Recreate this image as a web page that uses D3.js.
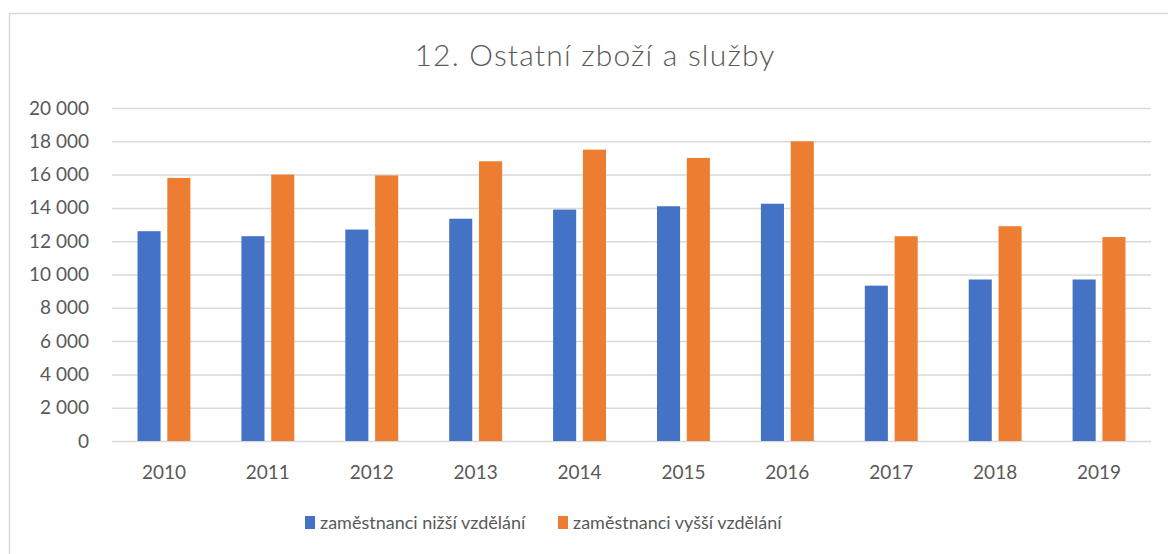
<!DOCTYPE html>
<html lang="cs">
<head>
    <meta charset="UTF-8">
    <title>12. Ostatní zboží a služby</title>
    <script src="https://d3js.org/d3.v7.min.js"></script>
    <style>
        body { margin: 0; background: #fff; }
        text { font-family: Lato, "Open Sans", sans-serif; fill: #595959; }
    </style>
</head>
<body>
<div id="chart"></div>
<script>
    const years = ["2010", "2011", "2012", "2013", "2014", "2015", "2016", "2017", "2018", "2019"];
    const seriesNames = ["zaměstnanci nižší vzdělání", "zaměstnanci vyšší vzdělání"];
    const lower = [12600, 12300, 12700, 13350, 13900, 14100, 14250, 9330, 9700, 9700];
    const higher = [15800, 16000, 15950, 16800, 17500, 17000, 18000, 12300, 12900, 12250];
    const yTicks = [0, 2000, 4000, 6000, 8000, 10000, 12000, 14000, 16000, 18000, 20000];
    const colors = ["#4472C4", "#ED7D31"];

    const width = 1168, height = 554;
    const plot = {left: 112, right: 1151, top: 108, bottom: 441};

    const svg = d3.select("#chart").append("svg")
        .attr("width", width)
        .attr("height", height);

    // chart frame (only top and left edges are visible in the window)
    svg.append("rect")
        .attr("x", 9.5).attr("y", 13.5)
        .attr("width", 1200).attr("height", 600)
        .attr("fill", "none")
        .attr("stroke", "#d9d9d9")
        .attr("stroke-width", 1.5);

    svg.append("text")
        .attr("x", 595).attr("y", 66)
        .attr("text-anchor", "middle")
        .attr("font-size", "30px")
        .attr("font-weight", 300)
        .attr("letter-spacing", "1.2px")
        .text("12. Ostatní zboží a služby");

    const x = d3.scaleBand().domain(years).range([plot.left, plot.right]).padding(0);
    const y = d3.scaleLinear().domain([0, 20000]).range([plot.bottom, plot.top]);

    const fmt = v => d3.format(",")(v).replace(/,/g, " ");

    // gridlines + y labels
    const yAxis = d3.axisLeft(y).tickValues(yTicks).tickSize(-(plot.right - plot.left)).tickPadding(23).tickFormat(fmt);
    const gy = svg.append("g").attr("transform", `translate(${plot.left},0)`).call(yAxis);
    gy.select(".domain").remove();
    gy.selectAll(".tick line").attr("stroke", "#d9d9d9").attr("stroke-width", 1.5);
    gy.selectAll(".tick text").attr("font-size", "19px").attr("fill", "#595959")
        .attr("font-family", "Lato, 'Open Sans', sans-serif");

    // bars
    const barW = x.bandwidth() * 0.222;
    const gap = x.bandwidth() * 0.065;
    const series = [lower, higher];
    series.forEach((vals, s) => {
        svg.append("g").selectAll("rect")
            .data(years.map((yr, i) => ({yr, v: vals[i]})))
            .enter().append("rect")
            .attr("x", d => x(d.yr) + x.bandwidth() / 2 + (s === 0 ? -gap / 2 - barW : gap / 2))
            .attr("y", d => y(d.v))
            .attr("width", barW)
            .attr("height", d => y(0) - y(d.v))
            .attr("fill", colors[s]);
    });

    // x labels
    svg.append("g").selectAll("text")
        .data(years)
        .enter().append("text")
        .attr("x", d => x(d) + x.bandwidth() / 2)
        .attr("y", 479)
        .attr("text-anchor", "middle")
        .attr("font-size", "19px")
        .text(d => d);

    // legend
    const legendX = [305, 558];
    seriesNames.forEach((name, i) => {
        const g = svg.append("g").attr("transform", `translate(${legendX[i]},0)`);
        g.append("rect").attr("x", 0).attr("y", 516).attr("width", 10).attr("height", 13).attr("fill", colors[i]);
        g.append("text").attr("x", 15).attr("y", 529).attr("font-size", "18px").text(name);
    });
</script>
</body>
</html>
